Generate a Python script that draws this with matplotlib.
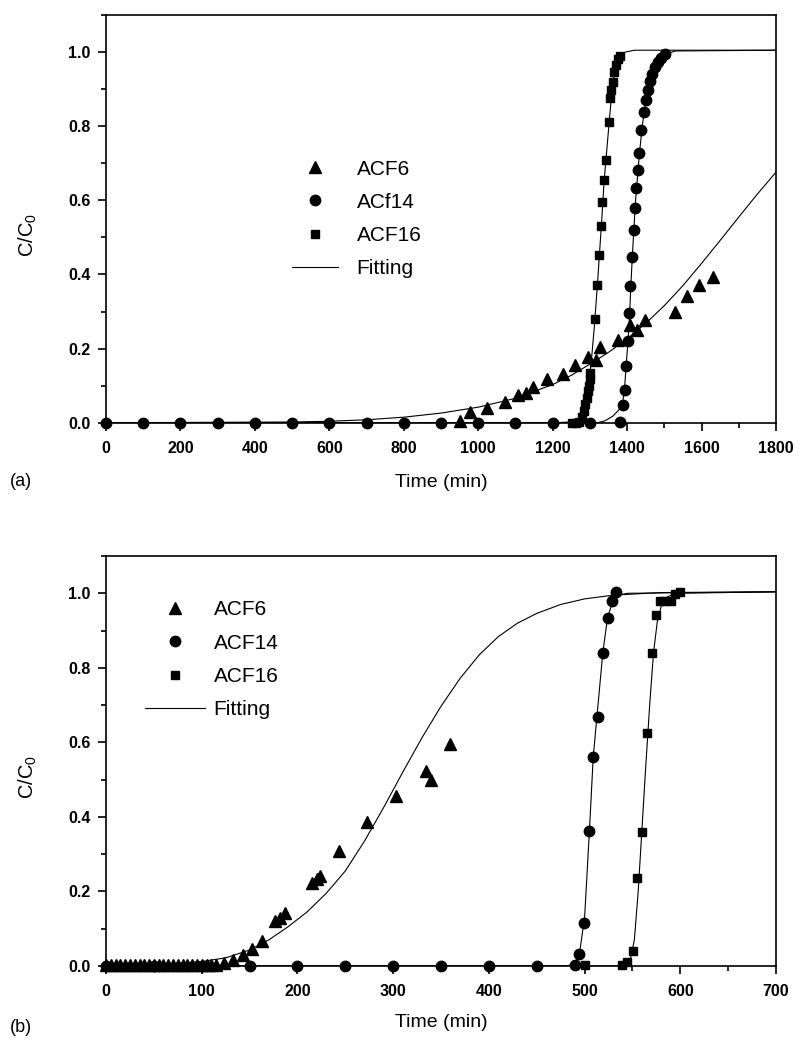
import matplotlib
matplotlib.use("Agg")
import matplotlib.pyplot as plt
from matplotlib.ticker import MultipleLocator, FormatStrFormatter

plt.rcParams['font.family'] = ['Liberation Sans', 'DejaVu Sans']
plt.rcParams['mathtext.default'] = 'regular'

# ----------------------------
# (a) data
# ----------------------------
a6_x = [951, 978, 1024, 1072, 1108, 1128, 1148, 1184, 1229, 1260, 1296, 1316,
        1327, 1376, 1408, 1427, 1448, 1529, 1560, 1592, 1632]
a6_y = [0.005, 0.028, 0.041, 0.057, 0.075, 0.079, 0.096, 0.117, 0.131, 0.156,
        0.178, 0.169, 0.205, 0.224, 0.265, 0.249, 0.276, 0.298, 0.341, 0.371, 0.394]

a14_x = [0, 100, 200, 300, 400, 500, 600, 700, 800, 900, 1000, 1100, 1200, 1300,
         1381, 1388, 1393, 1397, 1403, 1406, 1409, 1413, 1418, 1421, 1425, 1429,
         1433, 1438, 1445, 1451, 1456, 1462, 1468, 1475, 1483, 1492, 1502]
a14_y = [0, 0, 0, 0, 0, 0, 0, 0, 0, 0, 0, 0, 0, 0,
         0.003, 0.048, 0.088, 0.153, 0.221, 0.296, 0.369, 0.447, 0.519, 0.578, 0.632,
         0.681, 0.729, 0.789, 0.838, 0.872, 0.897, 0.921, 0.94, 0.96, 0.973, 0.985, 0.994]

a16_x = [1252, 1263, 1272, 1278, 1283, 1287, 1291, 1294, 1297, 1299, 1301,
         1314, 1320, 1325, 1331, 1333, 1338, 1343, 1352, 1355, 1358, 1362, 1366,
         1370, 1375, 1380]
a16_y = [0, 0, 0.003, 0.015, 0.032, 0.05, 0.068, 0.085, 0.1, 0.118, 0.133,
         0.28, 0.372, 0.453, 0.532, 0.596, 0.656, 0.71, 0.81, 0.877, 0.897, 0.92,
         0.945, 0.965, 0.98, 0.99]

# fitted curves
fa6_x = [0, 500, 600, 700, 800, 900, 1000, 1100, 1200, 1250, 1300, 1350, 1400,
         1450, 1500, 1550, 1600, 1650, 1700, 1750, 1800]
fa6_y = [0, 0.002, 0.004, 0.008, 0.015, 0.026, 0.042, 0.066, 0.103, 0.128, 0.158,
         0.19, 0.226, 0.268, 0.316, 0.37, 0.43, 0.492, 0.555, 0.617, 0.676]

fa14_x = [0, 1320, 1340, 1362, 1378, 1388, 1393, 1397, 1403, 1407, 1410, 1414,
          1418, 1422, 1426, 1430, 1434, 1440, 1446, 1452, 1460, 1468, 1478, 1490,
          1505, 1530, 1800]
fa14_y = [0, 0, 0.005, 0.018, 0.035, 0.055, 0.09, 0.15, 0.23, 0.3, 0.37, 0.45,
          0.52, 0.59, 0.64, 0.69, 0.735, 0.795, 0.84, 0.875, 0.91, 0.94, 0.965,
          0.982, 0.995, 1.003, 1.005]

fa16_x = [0, 1200, 1250, 1270, 1285, 1297, 1305, 1312, 1320, 1326, 1332, 1338,
          1344, 1350, 1356, 1362, 1370, 1380, 1395, 1420, 1800]
fa16_y = [0, 0, 0.002, 0.006, 0.035, 0.1, 0.18, 0.26, 0.37, 0.46, 0.55, 0.65,
          0.72, 0.79, 0.86, 0.92, 0.965, 0.99, 1.0, 1.005, 1.005]

# ----------------------------
# (b) data
# ----------------------------
b6_x = [0, 5, 10, 15, 20, 25, 30, 35, 40, 45, 50, 55, 60, 65, 70, 75, 80, 85, 90,
        95, 100, 105, 110, 115,
        123, 133, 143, 152, 163, 177, 182, 187, 215, 220, 224, 243, 273, 303,
        334, 340, 359]
b6_y = [0.002] * 24 + [0.008, 0.016, 0.03, 0.045, 0.066, 0.12, 0.129, 0.142,
                       0.224, 0.234, 0.241, 0.309, 0.386, 0.456, 0.523, 0.5, 0.595]

b14_x = [0, 50, 100, 150, 200, 250, 300, 350, 400, 450, 490,
         494, 499, 504.5, 509, 514.5, 519.5, 524, 529, 533]
b14_y = [0, 0, 0, 0, 0, 0, 0, 0, 0, 0, 0.003,
         0.031, 0.115, 0.363, 0.56, 0.667, 0.84, 0.933, 0.978, 1.004]

b16_x = [500, 539.5, 544.7, 550.2, 554.9, 559.5, 565.1, 570.7, 574.4, 579.1,
         583.7, 590.2, 594.4, 600]
b16_y = [0.003, 0.003, 0.012, 0.041, 0.235, 0.36, 0.625, 0.839, 0.941, 0.979,
         0.98, 0.98, 0.998, 1.003]

fb6_x = [0, 50, 100, 125, 150, 170, 190, 210, 230, 250, 270, 290, 310, 330, 350,
         370, 390, 410, 430, 450, 475, 500, 530, 580, 700]
fb6_y = [0, 0.003, 0.012, 0.022, 0.043, 0.07, 0.105, 0.145, 0.195, 0.255, 0.335,
         0.425, 0.52, 0.612, 0.697, 0.772, 0.835, 0.884, 0.92, 0.946, 0.97, 0.985,
         0.995, 1.002, 1.004]

fb14_x = [0, 480, 490, 495, 500, 505, 509, 514, 519, 524, 529, 535, 545, 700]
fb14_y = [0, 0, 0.005, 0.04, 0.13, 0.36, 0.56, 0.7, 0.84, 0.935, 0.975, 0.995,
          1.0, 1.004]

fb16_x = [0, 530, 543, 548, 552, 556, 560, 564, 568, 572, 576, 580, 586, 595, 700]
fb16_y = [0, 0, 0.003, 0.02, 0.07, 0.2, 0.37, 0.54, 0.7, 0.84, 0.925, 0.965,
          0.99, 1.0, 1.004]

# ----------------------------
# figure
# ----------------------------
fig = plt.figure(figsize=(8.02, 10.42), dpi=100)
ax1 = fig.add_axes([0.1322, 0.5943, 0.8354, 0.3913])
ax2 = fig.add_axes([0.1322, 0.0729, 0.8354, 0.3935])

mk = dict(color='k', linestyle='none', clip_on=False, zorder=3)
fit_kw = dict(color='k', linewidth=0.8, zorder=2)


def style_axis(ax, xmax, xmajor, xminor):
    ax.set_xlim(0, xmax)
    ax.set_ylim(0, 1.1)
    ax.xaxis.set_major_locator(MultipleLocator(xmajor))
    ax.xaxis.set_minor_locator(MultipleLocator(xminor))
    ax.yaxis.set_major_locator(MultipleLocator(0.2))
    ax.yaxis.set_minor_locator(MultipleLocator(0.1))
    ax.yaxis.set_major_formatter(FormatStrFormatter('%.1f'))
    ax.tick_params(which='both', direction='out', top=False, right=False, width=1.2)
    ax.tick_params(which='major', length=6, labelsize=11.5, pad=5)
    ax.tick_params(axis='x', which='major', pad=7)
    ax.tick_params(which='minor', length=3.5)
    for lab in ax.get_xticklabels() + ax.get_yticklabels():
        lab.set_fontweight('bold')
    for sp in ax.spines.values():
        sp.set_linewidth(1.2)
    ax.set_xlabel('Time (min)', fontsize=14)
    ax.set_ylabel(r'C/C$_0$', fontsize=14.5)
    ax.yaxis.set_label_coords(-0.1, 0.46)


# (a)
ax1.plot(fa6_x, fa6_y, **fit_kw)
ax1.plot(fa14_x, fa14_y, **fit_kw)
ax1.plot(fa16_x, fa16_y, label='Fitting', **fit_kw)
ax1.plot(a6_x, a6_y, marker='^', markersize=8, label='ACF6', **mk)
ax1.plot(a14_x, a14_y, marker='o', markersize=7.5, label='ACf14', **mk)
ax1.plot(a16_x, a16_y, marker='s', markersize=6, label='ACF16', **mk)
style_axis(ax1, 1800, 200, 100)
ax1.xaxis.set_label_coords(0.5, -0.126)
hs, ls = ax1.get_legend_handles_labels()
order = [1, 2, 3, 0]
ax1.legend([hs[i] for i in order], [ls[i] for i in order], loc='center left',
           bbox_to_anchor=(0.2775, 0.5), frameon=False, fontsize=15,
           handlelength=2.2, handletextpad=0.9, labelspacing=0.68, borderpad=0,
           borderaxespad=0)
fig.text(0.012, 1 - 482 / 1042, '(a)', fontsize=13, va='center')

# (b)
ax2.plot(fb6_x, fb6_y, **fit_kw)
ax2.plot(fb14_x, fb14_y, **fit_kw)
ax2.plot(fb16_x, fb16_y, label='Fitting', **fit_kw)
ax2.plot(b6_x, b6_y, marker='^', markersize=8, label='ACF6', **mk)
ax2.plot(b14_x, b14_y, marker='o', markersize=7.5, label='ACF14', **mk)
ax2.plot(b16_x, b16_y, marker='s', markersize=6, label='ACF16', **mk)
style_axis(ax2, 700, 100, 50)
ax2.xaxis.set_label_coords(0.5, -0.118)
hs, ls = ax2.get_legend_handles_labels()
ax2.legend([hs[i] for i in order], [ls[i] for i in order], loc='center left',
           bbox_to_anchor=(0.058, 0.747), frameon=False, fontsize=15,
           handlelength=2.9, handletextpad=0.4, labelspacing=0.68, borderpad=0,
           borderaxespad=0)
fig.text(0.012, 1 - 1028 / 1042, '(b)', fontsize=13, va='center')

fig.savefig('out.png', dpi=100)
